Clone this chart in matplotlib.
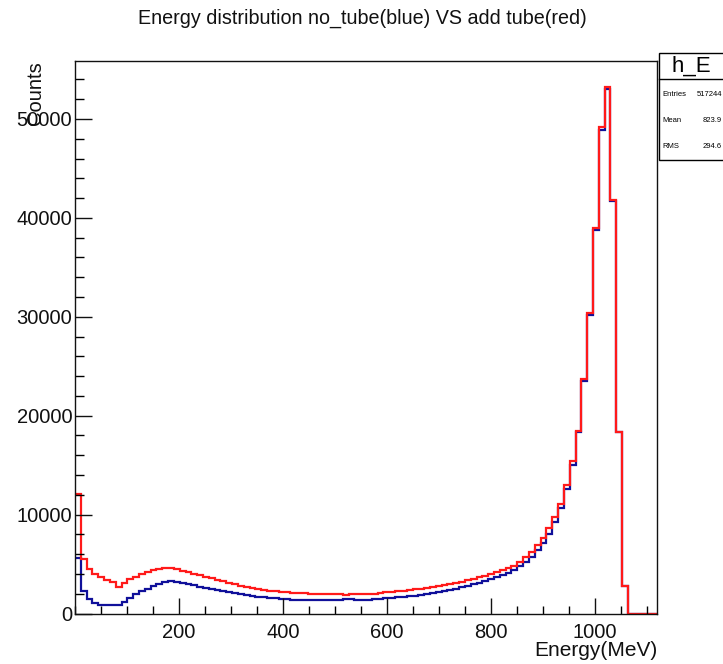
import numpy as np
import matplotlib
matplotlib.use("Agg")
import matplotlib.pyplot as plt
from matplotlib.patches import Rectangle
from matplotlib.ticker import MultipleLocator, FixedLocator

plt.rcParams['font.family'] = ['Liberation Sans', 'DejaVu Sans']

# ---- data ----
x_min, x_max, n_bins = 0.0, 1120.0, 100
no_tube = [
    5600, 2300, 1500, 1100, 900, 850, 850, 850, 1200, 1600,
    1950, 2250, 2500, 2750, 2950, 3150, 3250, 3200, 3100, 2950,
    2850, 2700, 2600, 2450, 2350, 2250, 2150, 2050, 1950, 1850,
    1800, 1700, 1650, 1600, 1550, 1500, 1450, 1400, 1400, 1400,
    1380, 1380, 1380, 1380, 1380, 1400, 1450, 1500, 1400, 1400,
    1400, 1450, 1500, 1550, 1600, 1650, 1700, 1750, 1800, 1900,
    1950, 2050, 2150, 2250, 2400, 2500, 2650, 2800, 2950, 3100,
    3300, 3500, 3700, 3900, 4100, 4400, 4800, 5250, 5750, 6400,
    7100, 8000, 9300, 10700, 12600, 15000, 18300, 23500, 30200, 38800,
    48900, 53000, 41700, 18300, 2800, 0, 0, 0, 0, 0]
add_tube = [
    12100, 5500, 4500, 4000, 3650, 3350, 3150, 2700, 3100, 3450,
    3700, 3950, 4200, 4350, 4450, 4550, 4550, 4450, 4300, 4150,
    4000, 3850, 3700, 3550, 3400, 3250, 3100, 2950, 2800, 2700,
    2600, 2500, 2400, 2300, 2250, 2200, 2150, 2100, 2050, 2050,
    2000, 2000, 2000, 2000, 1980, 1980, 1850, 1980, 2000, 2000,
    2000, 2000, 2050, 2150, 2200, 2250, 2300, 2350, 2450, 2500,
    2550, 2650, 2750, 2850, 2950, 3050, 3200, 3350, 3500, 3650,
    3800, 3950, 4150, 4350, 4550, 4800, 5200, 5700, 6250, 6900,
    7600, 8600, 9800, 11100, 13000, 15400, 18500, 23700, 30400, 39000,
    49200, 53200, 41800, 18400, 2800, 0, 0, 0, 0, 0]
x_major = [200, 400, 600, 800, 1000]
y_major = [0, 10000, 20000, 30000, 40000, 50000]
title = "Energy distribution no_tube(blue) VS add tube(red)"
stats_name = "h_E"
stats_rows = [("Entries", "517244"), ("Mean", "823.9"), ("RMS", "294.6")]

W, H = 723, 664
fig = plt.figure(figsize=(W / 100, H / 100), dpi=100)
fig.patch.set_facecolor('white')

L, R, T, B = 75, 657, 61, 613.5
ax = fig.add_axes([L / W, (H - B) / H, (R - L) / W, (B - T) / H])

edges = np.linspace(x_min, x_max, n_bins + 1)
ax.stairs(no_tube, edges, color='#10109a', lw=1.6, baseline=None)
ax.stairs(add_tube, edges, color='#ff1a1a', lw=1.6, baseline=None)

ax.set_xlim(x_min, x_max)
ax.set_ylim(0, 1.05 * max(max(add_tube), max(no_tube)))

ax.xaxis.set_major_locator(FixedLocator(x_major))
ax.xaxis.set_minor_locator(MultipleLocator(50))
ax.yaxis.set_major_locator(FixedLocator(y_major))
ax.yaxis.set_minor_locator(MultipleLocator(2000))
ax.set_xticklabels([str(v) for v in x_major])
ax.set_yticklabels([str(v) for v in y_major])

ax.tick_params(axis='x', which='major', direction='in', length=11.5, width=1.0,
               labelsize=14.5, pad=7, colors='#111111', top=False)
ax.tick_params(axis='x', which='minor', direction='in', length=6, width=1.0, top=False)
ax.tick_params(axis='y', which='major', direction='in', length=12.5, width=1.0,
               labelsize=14.5, pad=2, colors='#111111', right=False)
ax.tick_params(axis='y', which='minor', direction='in', length=6.5, width=1.0, right=False)
for s in ax.spines.values():
    s.set_linewidth(1.0)
    s.set_color('#111111')

# axis titles
fig.text(R / W, 1 - 650 / H, "Energy(MeV)", ha='right', va='center', fontsize=15, color='#111111')
fig.text(35 / W, 1 - T / H, "Counts", ha='center', va='top', rotation=90, fontsize=14.5, color='#111111')
fig.text(362 / W, 1 - 18 / H, title, ha='center', va='center', fontsize=14.2, color='#111111')

# stats box
bx0, by0, by1, hdr = 659, 53, 160, 79
fig.patches.append(Rectangle((bx0 / W, 1 - by1 / H), (W + 5 - bx0) / W, (by1 - by0) / H,
                             transform=fig.transFigure, facecolor='white', edgecolor='black',
                             lw=1.0, zorder=5))
fig.lines.append(plt.Line2D([bx0 / W, 1.0], [1 - hdr / H, 1 - hdr / H], transform=fig.transFigure,
                            color='black', lw=1.0, zorder=6))
fig.text(691 / W, 1 - 66 / H, stats_name, ha='center', va='center', fontsize=16, zorder=7)
for i, (k, v) in enumerate(stats_rows):
    yy = 1 - (95 + 26 * i) / H
    fig.text(662 / W, yy, k, ha='left', va='center', fontsize=5.5, zorder=7)
    fig.text(722 / W, yy, v, ha='right', va='center', fontsize=5.5, zorder=7)

fig.savefig("out.png", dpi=100)
